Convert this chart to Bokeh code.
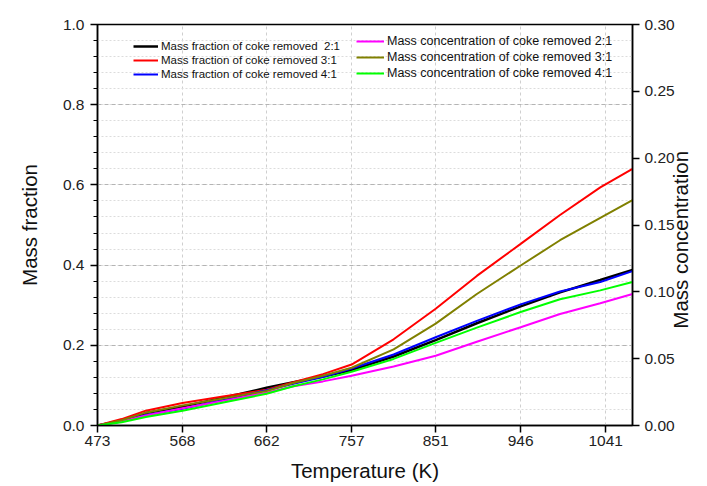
import math
from bokeh.plotting import figure
from bokeh.models import (Range1d, LinearAxis, FixedTicker, Legend, LegendItem,
                          NumeralTickFormatter)
from bokeh.embed import file_html
from bokeh.resources import INLINE

# ---- data ----
temperature = [473, 500, 527, 568, 615, 662, 692, 725, 757, 804, 851, 897, 946, 990, 1035, 1071]
frac_2_1 = [0, 0.012, 0.031, 0.047, 0.070, 0.094, 0.108, 0.122, 0.138, 0.172, 0.213, 0.255, 0.297, 0.332, 0.363, 0.388]
frac_3_1 = [0, 0.016, 0.037, 0.056, 0.073, 0.089, 0.108, 0.128, 0.152, 0.215, 0.291, 0.373, 0.453, 0.525, 0.594, 0.640]
frac_4_1 = [0, 0.010, 0.026, 0.042, 0.064, 0.088, 0.104, 0.121, 0.142, 0.177, 0.220, 0.261, 0.302, 0.334, 0.358, 0.385]
conc_2_1 = [0, 0.0030, 0.0075, 0.0129, 0.0186, 0.0246, 0.0294, 0.0330, 0.0372, 0.0441, 0.0522, 0.0627, 0.0735, 0.0834, 0.0915, 0.0984]
conc_3_1 = [0, 0.0039, 0.0096, 0.0150, 0.0204, 0.0258, 0.0318, 0.0372, 0.0432, 0.0570, 0.0762, 0.0984, 0.1197, 0.1386, 0.1554, 0.1686]
conc_4_1 = [0, 0.0024, 0.0063, 0.0111, 0.0174, 0.0237, 0.0294, 0.0345, 0.0402, 0.0498, 0.0618, 0.0732, 0.0849, 0.0945, 0.1011, 0.1074]

x_ticks = [473, 568, 662, 757, 851, 946, 1041]
left_ticks = [0.0, 0.2, 0.4, 0.6, 0.8, 1.0]
left_minor = [i * 0.04 for i in range(26)]
right_ticks = [0.0, 0.05, 0.10, 0.15, 0.20, 0.25, 0.30]

frac_labels = ["Mass fraction of coke removed  2:1", "Mass fraction of coke removed 3:1",
               "Mass fraction of coke removed 4:1"]
conc_labels = ["Mass concentration of coke removed 2:1", "Mass concentration of coke removed 3:1",
               "Mass concentration of coke removed 4:1"]

FONT = "Liberation Sans"

p = figure(width=707, height=486, output_backend="svg", toolbar_location=None,
           x_range=Range1d(473, 1071), y_range=Range1d(0, 1.0),
           min_border_left=97, min_border_right=75, min_border_top=24, min_border_bottom=61)
p.extra_y_ranges = {"conc": Range1d(0, 0.30)}

p.outline_line_color = "black"
p.outline_line_width = 1.5
p.background_fill_color = "white"

# grids
p.xgrid.ticker = FixedTicker(ticks=x_ticks)
p.xgrid.grid_line_color = "#cfcfcf"
p.xgrid.grid_line_dash = "3 3"
p.ygrid.ticker = FixedTicker(ticks=left_ticks, minor_ticks=left_minor)
p.ygrid.grid_line_color = "#b4b4b4"
p.ygrid.grid_line_dash = "4 3"
p.ygrid.minor_grid_line_color = "#dcdcdc"
p.ygrid.minor_grid_line_dash = "2 2"

# axes
xa = p.xaxis[0]
xa.ticker = FixedTicker(ticks=x_ticks, minor_ticks=[])
xa.axis_label = "Temperature (K)"

ya = p.yaxis[0]
ya.ticker = FixedTicker(ticks=left_ticks, minor_ticks=left_minor)
ya.formatter = NumeralTickFormatter(format="0.0")
ya.axis_label = "Mass fraction"

ra = LinearAxis(y_range_name="conc", axis_label="Mass concentration",
                ticker=FixedTicker(ticks=right_ticks, minor_ticks=[]),
                formatter=NumeralTickFormatter(format="0.00"))
p.add_layout(ra, "right")

for ax in (xa, ya, ra):
    ax.axis_line_color = "black"
    ax.axis_line_width = 1.5
    ax.major_tick_line_color = "black"
    ax.major_tick_line_width = 1.5
    ax.major_tick_in = 0
    ax.major_tick_out = 7
    ax.minor_tick_line_color = "black"
    ax.minor_tick_in = 0
    ax.minor_tick_out = 4
    ax.major_label_text_font = FONT
    ax.major_label_text_font_size = "15.5px"
    ax.major_label_text_color = "#222222"
    ax.axis_label_text_font = FONT
    ax.axis_label_text_font_size = "20.5px"
    ax.axis_label_text_font_style = "normal"
    ax.axis_label_text_color = "#111111"

xa.major_label_standoff = 3
xa.axis_label_standoff = 10
ya.major_label_standoff = 6
ya.axis_label_standoff = 19
ra.major_label_standoff = 5
ra.axis_label_standoff = 3

# right axis title should read bottom-to-top like the left one
props = ra.properties()
if "axis_label_orientation" in props:
    ra.axis_label_orientation = math.pi / 2
    if "axis_label_align" in props:
        ra.axis_label_align = "start"
        # non-breaking spaces lift the text from the axis start to mid-height
        ra.axis_label = "\u00a0" * 17 + "Mass concentration"

lw = 2
r_f2 = p.line(temperature, frac_2_1, color="black", line_width=lw + 0.5)
r_f3 = p.line(temperature, frac_3_1, color="#ff0000", line_width=lw)
r_f4 = p.line(temperature, frac_4_1, color="#0000ff", line_width=lw)
r_c2 = p.line(temperature, conc_2_1, color="#ff00ff", line_width=lw, y_range_name="conc")
r_c3 = p.line(temperature, conc_3_1, color="#808000", line_width=lw, y_range_name="conc")
r_c4 = p.line(temperature, conc_4_1, color="#00ff00", line_width=lw, y_range_name="conc")

def make_legend(items, loc, fs, h, gw):
    leg = Legend(items=items, location=loc, orientation="vertical")
    leg.border_line_alpha = 0
    leg.background_fill_alpha = 0
    leg.padding = 0
    leg.margin = 0
    leg.spacing = 0
    leg.label_height = h
    leg.glyph_height = h
    leg.glyph_width = gw
    leg.label_standoff = 3
    leg.label_text_font = FONT
    leg.label_text_font_size = fs
    leg.label_text_color = "#111111"
    return leg

leg1 = make_legend([LegendItem(label=frac_labels[0], renderers=[r_f2]),
                    LegendItem(label=frac_labels[1], renderers=[r_f3]),
                    LegendItem(label=frac_labels[2], renderers=[r_f4])],
                   (36, 344), "11.5px", 14, 25)
leg2 = make_legend([LegendItem(label=conc_labels[0], renderers=[r_c2]),
                    LegendItem(label=conc_labels[1], renderers=[r_c3]),
                    LegendItem(label=conc_labels[2], renderers=[r_c4])],
                   (259, 344), "12.5px", 16, 28)
p.add_layout(leg1, "center")
p.add_layout(leg2, "center")

open("out.html", "w").write(file_html(p, INLINE))
